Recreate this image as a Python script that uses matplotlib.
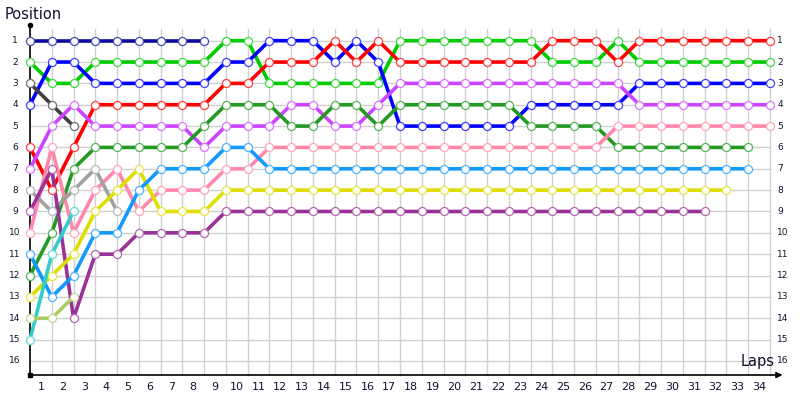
import matplotlib
matplotlib.use("Agg")
import matplotlib.pyplot as plt
from matplotlib.colors import to_rgb

# ---------------- data (position at lap 0, 1, 2, ...) ----------------
navy = [1, 1, 1, 1, 1, 1, 1, 1, 1]
green = [2, 3, 3, 2, 2, 2, 2, 2, 2, 1, 1, 3, 3, 3, 3, 3, 3, 1, 1, 1, 1, 1, 1, 1,
         2, 2, 2, 1, 2, 2, 2, 2, 2, 2, 2]
blue = [4, 2, 2, 3, 3, 3, 3, 3, 3, 2, 2, 1, 1, 1, 2, 1, 2, 5, 5, 5, 5, 5, 5, 4,
        4, 4, 4, 4, 3, 3, 3, 3, 3, 3, 3]
red = [6, 8, 6, 4, 4, 4, 4, 4, 4, 3, 3, 2, 2, 2, 1, 2, 1, 2, 2, 2, 2, 2, 2, 2,
       1, 1, 1, 2, 1, 1, 1, 1, 1, 1, 1]
black = [3, 4, 5]
violet = [7, 5, 4, 5, 5, 5, 5, 5, 6, 5, 5, 5, 4, 4, 5, 5, 4, 3, 3, 3, 3, 3, 3, 3,
          3, 3, 3, 3, 4, 4, 4, 4, 4, 4, 4]
darkgreen = [12, 10, 7, 6, 6, 6, 6, 6, 5, 4, 4, 4, 5, 5, 4, 4, 5, 4, 4, 4, 4, 4,
             4, 5, 5, 5, 5, 6, 6, 6, 6, 6, 6, 6]
pink = [10, 6, 10, 8, 7, 9, 8, 8, 8, 7, 7, 6, 6, 6, 6, 6, 6, 6, 6, 6, 6, 6, 6, 6,
        6, 6, 6, 5, 5, 5, 5, 5, 5, 5, 5]
gray = [8, 9, 8, 7, 9]
purple = [9, 7, 14, 11, 11, 10, 10, 10, 10, 9, 9, 9, 9, 9, 9, 9, 9, 9, 9, 9, 9,
          9, 9, 9, 9, 9, 9, 9, 9, 9, 9, 9]
yellow = [13, 12, 11, 9, 8, 7, 9, 9, 9, 8, 8, 8, 8, 8, 8, 8, 8, 8, 8, 8, 8, 8, 8,
          8, 8, 8, 8, 8, 8, 8, 8, 8, 8]
lightblue = [11, 13, 12, 10, 10, 8, 7, 7, 7, 6, 6, 7, 7, 7, 7, 7, 7, 7, 7, 7, 7,
             7, 7, 7, 7, 7, 7, 7, 7, 7, 7, 7, 7, 7]
cyan = [15, 11, 9]
olive = [14, 14, 13]

series = [
    (navy, "#0c0ca0"), (green, "#00cc00"), (blue, "#0000ff"), (red, "#ff0000"),
    (black, "#404040"), (violet, "#cc44ff"), (darkgreen, "#229922"),
    (pink, "#ff88aa"), (gray, "#a0a0a0"), (purple, "#993399"),
    (yellow, "#dddd00"), (lightblue, "#1199ff"), (cyan, "#33cccc"),
    (olive, "#aacc66"),
]

lap_labels = [str(i) for i in range(1, 35)]
pos_labels = [str(i) for i in range(1, 17)]
n_laps = 34
n_pos = 16

# ---------------- figure ----------------
fig = plt.figure(figsize=(8, 4), dpi=100)
ax = fig.add_axes([0, 0, 1, 1])
ax.set_xlim(-1.379, 35.38)
ax.set_ylim(17.83, -0.906)
ax.axis("off")

grid_c = "#d0d0d0"
# grid
for p in range(1, n_pos + 1):
    ax.plot([0, n_laps], [p, p], color=grid_c, lw=1, zorder=1)
for l in range(1, n_laps + 1):
    ax.plot([l, l], [0.45, 16.66], color=grid_c, lw=1, zorder=1)

# axes
ax.plot([0, 0], [0.28, 16.66], color="black", lw=1.2, zorder=2)
ax.plot([0, 34.35], [16.66, 16.66], color="black", lw=1.2, zorder=2)
ax.plot([0], [0.28], marker="o", ms=3, color="black", zorder=3)
ax.plot([0], [16.66], marker="s", ms=2.5, color="black", zorder=3)
ax.annotate("", xy=(34.7, 16.66), xytext=(34.2, 16.66),
            arrowprops=dict(arrowstyle="-|>", color="black", lw=1,
                            mutation_scale=9), zorder=3)

# series
for vals, c in series:
    rgb = to_rgb(c)
    edge = tuple(0.75 * v + 0.25 for v in rgb)
    laps = list(range(len(vals)))
    ax.plot(laps, vals, color=c, lw=2.6, solid_capstyle="round",
            solid_joinstyle="round", zorder=4)
    ax.plot(laps, vals, ls="none", marker="o", ms=5.8, mfc="white",
            mec=edge, mew=0.9, zorder=5)

# labels
for i, t in enumerate(pos_labels):
    ax.text(-0.69, i + 1, t, ha="center", va="center", fontsize=6.5,
            color="#101030")
    ax.text(34.33, i + 1, t, ha="left", va="center", fontsize=6.5,
            color="#101030")
for i, t in enumerate(lap_labels):
    ax.text(i + 0.5, 17.2, t, ha="center", va="center", fontsize=8,
            color="#101030")

ax.text(-1.17, -0.22, "Position", ha="left", va="center", fontsize=10.5,
        color="#101030")
ax.text(34.2, 16.05, "Laps", ha="right", va="center", fontsize=10.5,
        color="#101030")

fig.savefig("out.png", dpi=100)
